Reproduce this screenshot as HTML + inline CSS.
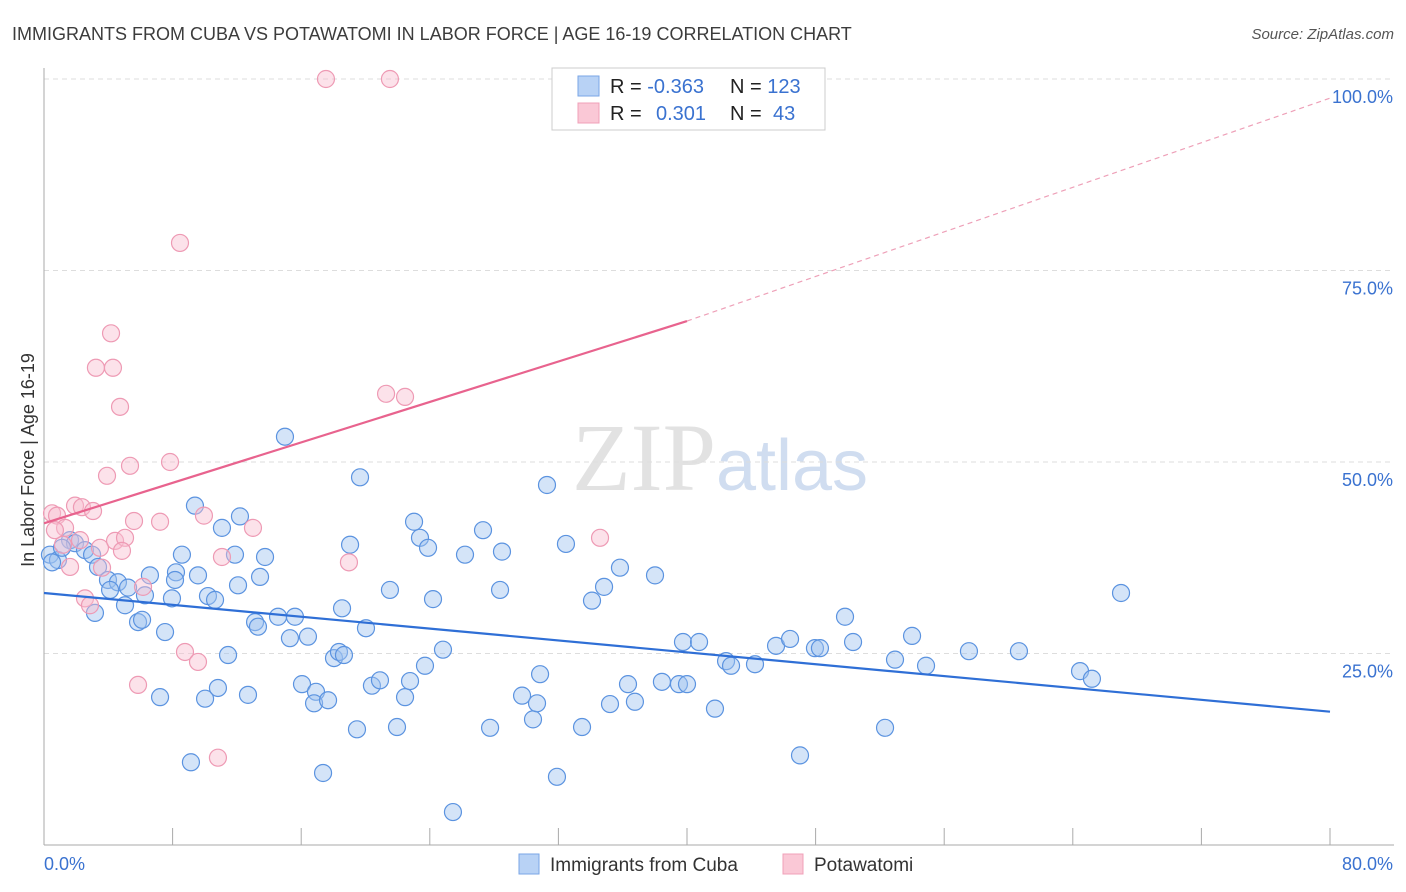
<!DOCTYPE html>
<html><head><meta charset="utf-8"><style>
body{margin:0;background:#fff;font-family:"Liberation Sans",sans-serif;}
#wrap{position:relative;width:1406px;height:892px;overflow:hidden;}
</style></head><body>
<div id="wrap">
<svg id="chart" width="1406" height="892" xmlns="http://www.w3.org/2000/svg">
<text x="12" y="40" font-size="18" fill="#3c3c3c">IMMIGRANTS FROM CUBA VS POTAWATOMI IN LABOR FORCE | AGE 16-19 CORRELATION CHART</text>
<text x="1394" y="39" font-size="15" fill="#555" font-style="italic" text-anchor="end">Source: ZipAtlas.com</text>
<text x="720" y="490" font-size="96" fill="#e2e2e2" text-anchor="middle" font-family="Liberation Serif,serif">ZIP<tspan fill="#d0ddf0" font-family="Liberation Sans,sans-serif" font-size="72">atlas</tspan></text>
<g id="grid"></g>
<g id="axes"></g>
<g id="pts"></g>
<g id="lines"></g>
<text transform="translate(34,460) rotate(-90)" font-size="18" fill="#333" text-anchor="middle">In Labor Force | Age 16-19</text>
<g>
<rect x="552" y="68" width="273" height="62" fill="#fff" stroke="#ccc"/>
<rect x="578" y="76" width="21" height="20" fill="#b8d2f5" stroke="#7aa6e6"/>
<rect x="578" y="103" width="21" height="20" fill="#fac8d6" stroke="#f0a0b8"/>
<text x="610" y="93" font-size="20" fill="#222">R = <tspan fill="#3a72d0">-0.363</tspan><tspan x="730">N = </tspan><tspan fill="#3a72d0">123</tspan></text>
<text x="610" y="120" font-size="20" fill="#222">R = <tspan x="656" fill="#3a72d0">0.301</tspan><tspan x="730">N = </tspan><tspan x="773" fill="#3a72d0">43</tspan></text>
</g>
<g>
<rect x="519" y="854" width="20" height="20" fill="#b8d2f5" stroke="#7aa6e6"/>
<text x="550" y="871" font-size="19" fill="#333">Immigrants from Cuba</text>
<rect x="783" y="854" width="20" height="20" fill="#fac8d6" stroke="#f0a0b8"/>
<text x="814" y="871" font-size="19" fill="#333">Potawatomi</text>
</g>
</svg>
</div>
<script>
const yTicks=[25,50,75,100];
const xTickVals=[0,8,16,24,32,40,48,56,64,72,80];
const blueX=[.37,.87,1.62,1.93,2.55,2.99,3.36,3.98,4.6,5.04,5.23,5.85,6.1,6.59,7.22,7.53,7.96,8.21,8.58,9.14,9.39,9.58,10.02,10.2,10.64,10.82,11.07,11.45,11.88,12.19,12.07,12.69,13.13,13.31,13.75,14.56,14.99,15.3,15.61,16.05,16.42,16.92,16.8,17.36,17.67,18.04,18.35,18.66,18.54,19.04,19.47,19.66,20.03,20.4,20.9,21.52,21.96,22.46,22.77,23.02,23.39,23.7,23.89,24.2,24.82,25.44,26.19,27.31,27.75,28.37,28.49,29.74,30.42,30.67,30.86,31.29,31.91,32.47,33.47,34.09,34.84,35.21,35.83,36.33,36.76,38.01,38.44,39.75,39.5,40,40.75,41.74,42.43,42.74,44.23,45.54,46.41,47.03,47.96,48.27,49.83,50.33,52.32,52.94,54,54.87,57.54,60.65,64.45,65.19,67,.5,1.12,3.17,4.11,6.28,8.15,13.44];
const blueY=[37.9,37.2,39.8,39.4,38.5,37.9,36.3,34.6,34.3,31.3,33.6,29.1,29.4,35.2,19.3,27.8,32.2,35.6,37.9,10.8,44.3,35.2,19.1,32.5,32,20.5,41.4,24.8,37.9,42.9,33.9,19.6,29.1,28.5,37.6,29.8,53.3,27,29.8,21,27.2,20,18.5,9.4,18.9,24.4,25.2,24.8,30.9,39.2,15.1,48,28.3,20.8,21.5,33.3,15.4,19.3,21.4,42.2,40.1,23.4,38.8,32.1,25.5,4.3,37.9,41.1,15.3,33.3,38.3,19.5,16.4,18.5,22.3,47,8.9,39.3,15.4,31.9,33.7,18.4,36.2,21,18.7,35.2,21.3,26.5,21,21,26.5,17.8,24,23.4,23.6,26,26.9,11.7,25.7,25.7,29.8,26.5,15.3,24.2,27.3,23.4,25.3,25.3,22.7,21.7,32.9,36.9,38.8,30.3,33.3,32.6,34.6,35];
const pinkX=[17.54,21.52,8.46,4.17,3.23,4.29,4.73,21.28,22.46,5.35,7.84,3.92,1.93,2.36,3.05,.5,.81,1.31,.68,9.95,13,5.6,7.22,34.59,3.48,4.42,5.04,4.85,11.07,18.97,1.62,3.61,6.16,2.55,2.86,8.77,9.58,5.85,10.82,1.18,2.24];
const pinkY=[100,100,78.6,66.8,62.3,62.3,57.2,58.9,58.5,49.5,50,48.2,44.3,44.1,43.6,43.3,43,41.4,41.1,43,41.4,42.3,42.2,40.1,38.8,39.7,40.1,38.4,37.6,36.9,36.3,36.2,33.7,32.2,31.3,25.2,23.9,20.9,11.4,39.2,39.8];
const blueTrend=[[0,32.9],[80,17.4]];
const pinkTrend=[[0,42],[40,68.4]];
const pinkDash=[[40,68.4],[80,97.5]];
const NS="http://www.w3.org/2000/svg";
const sx=v=>44+v/80*1286, sy=v=>845-v*7.66;
function mk(t,a,p){const e=document.createElementNS(NS,t);for(const k in a)e.setAttribute(k,a[k]);p.appendChild(e);return e;}
const grid=document.getElementById('grid'),axes=document.getElementById('axes'),pts=document.getElementById('pts'),lines=document.getElementById('lines');
yTicks.forEach(v=>{
 const l=mk('line',{x1:44,x2:1394,y1:sy(v),y2:sy(v),stroke:'#ddd','stroke-dasharray':'5,4'},grid);
 
 
 const t=mk('text',{x:1393,y:sy(v)+24,'font-size':18,fill:'#3a72d0','text-anchor':'end'},axes);
 t.textContent=v.toFixed(1)+'%';
 
 
});
const ya=mk('line',{x1:44,x2:44,y1:68,y2:845,stroke:'#aaa'},axes);


const xa=mk('line',{x1:44,x2:1394,y1:845,y2:845,stroke:'#aaa'},axes);


xTickVals.forEach(v=>{
 const l=mk('line',{x1:sx(v),x2:sx(v),y1:828,y2:845,stroke:'#aaa'},axes);
 
 
});
[[0,'start',44],[80,'end',1393]].forEach(([v,a,x])=>{
 const t=mk('text',{x:x,y:870,'font-size':18,fill:'#3a72d0','text-anchor':a},axes);
 t.textContent=v.toFixed(1)+'%';
 
 
});
blueX.forEach((x,i)=>{
 const c=mk('circle',{cx:sx(x),cy:sy(blueY[i]),r:8.5,fill:'rgba(160,195,240,0.45)',stroke:'#5b93e0','stroke-width':1.2},pts);
 
 
});
pinkX.forEach((x,i)=>{
 const c=mk('circle',{cx:sx(x),cy:sy(pinkY[i]),r:8.5,fill:'rgba(248,190,208,0.45)',stroke:'#ee9ab4','stroke-width':1.2},pts);
 
 
});
const bl=mk('line',{x1:sx(blueTrend[0][0]),y1:sy(blueTrend[0][1]),x2:sx(blueTrend[1][0]),y2:sy(blueTrend[1][1]),stroke:'#2f6fd6','stroke-width':2.2},lines);


const pl=mk('line',{x1:sx(pinkTrend[0][0]),y1:sy(pinkTrend[0][1]),x2:sx(pinkTrend[1][0]),y2:sy(pinkTrend[1][1]),stroke:'#e8638e','stroke-width':2.2},lines);


const pd=mk('line',{x1:sx(pinkDash[0][0]),y1:sy(pinkDash[0][1]),x2:sx(pinkDash[1][0]),y2:sy(pinkDash[1][1]),stroke:'#eea0b8','stroke-width':1.2,'stroke-dasharray':'5,4'},lines);


</script>
</body></html>
